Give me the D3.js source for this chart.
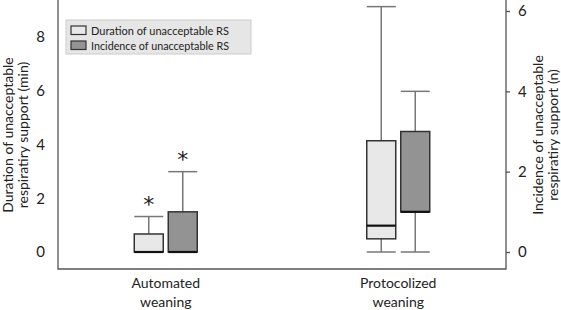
<!DOCTYPE html>
<html>
<head>
<meta charset="utf-8">
<script src="https://cdn.jsdelivr.net/npm/d3@7"></script>
<style>
  body { margin: 0; background: #fff; }
  svg { display: block; font-family: Lato, "Open Sans", sans-serif; }
</style>
</head>
<body>
<div id="chart"></div>
<script>
// Data
const categories = ["Automated weaning", "Protocolized weaning"];
const seriesNames = ["Duration of unacceptable RS", "Incidence of unacceptable RS"];
// box stats: [min, q1, median, q3, max]
const durationStats = [[0, 0, 0, 0.67, 1.32], [0, 0.49, 0.98, 4.14, 9.13]];
const incidenceStats = [[0, 0, 0, 1, 2], [0, 1, 1, 3, 4]];
const significant = [true, false];
const leftTicks = [0, 2, 4, 6, 8];
const rightTicks = [0, 2, 4, 6];

const width = 561, height = 310;
const plotLeft = 58, plotRight = 506, plotTop = 0, plotBottom = 269;

const svg = d3.select("#chart").append("svg")
  .attr("width", width)
  .attr("height", height);

const x = d3.scalePoint().domain(categories).range([plotLeft, plotRight]).padding(0.4635);
const yL = d3.scaleLinear().domain([0, 8]).range([252, 37]);
const yR = d3.scaleLinear().domain([0, 6]).range([252, 11]);

const fills = ["#e8e8e8", "#939393"];
const offsets = [-17, 17];
const boxW = 29;

// frame: left, bottom, right lines
svg.append("path")
  .attr("d", `M${plotLeft},${plotTop}V${plotBottom}H${plotRight}V${plotTop}`)
  .attr("fill", "none")
  .attr("stroke", "#555")
  .attr("stroke-width", 1.3);

// left axis labels (no tick marks)
const axL = svg.append("g").attr("transform", `translate(${plotLeft},0)`)
  .call(d3.axisLeft(yL).tickValues(leftTicks).tickFormat(d3.format("d")).tickSize(0).tickPadding(13));
axL.select(".domain").remove();
axL.selectAll("text").attr("font-size", 15).attr("font-family", "Lato, sans-serif").attr("fill", "#222");

const axR = svg.append("g").attr("transform", `translate(${plotRight},0)`)
  .call(d3.axisRight(yR).tickValues(rightTicks).tickFormat(d3.format("d")).tickSize(4).tickPadding(8));
axR.select(".domain").remove();
axR.selectAll("line").attr("stroke", "#555").attr("stroke-width", 1.3);
axR.selectAll("text").attr("font-size", 15).attr("font-family", "Lato, sans-serif").attr("fill", "#222");

// axis titles
function title(xc, lines) {
  const t = svg.append("text")
    .attr("transform", `translate(${xc},135) rotate(-90)`)
    .attr("text-anchor", "middle")
    .attr("font-size", 14)
    .attr("fill", "#222");
  lines.forEach((l, i) => t.append("tspan").attr("x", 0).attr("dy", i ? 14.5 : 0).text(l));
}
title(13, ["Duration of unacceptable", "respiratiry support (min)"]);
title(543, ["Incidence of unacceptable", "respiratiry support (n)"]);

// category labels
categories.forEach(c => {
  const words = c.split(" ");
  const t = svg.append("text")
    .attr("x", x(c))
    .attr("y", 288)
    .attr("text-anchor", "middle")
    .attr("font-size", 14)
    .attr("fill", "#222");
  words.forEach((w, i) => t.append("tspan").attr("x", x(c)).attr("dy", i ? 19 : 0).text(w));
});

// boxplots
function drawBox(stats, y, si) {
  stats.forEach((s, ci) => {
    const cx = x(categories[ci]) + offsets[si];
    const [mn, q1, md, q3, mx] = s;
    const g = svg.append("g");
    // whiskers
    g.append("line").attr("x1", cx).attr("x2", cx).attr("y1", y(q3)).attr("y2", y(mx))
      .attr("stroke", "#777").attr("stroke-width", 1.5);
    g.append("line").attr("x1", cx).attr("x2", cx).attr("y1", y(q1)).attr("y2", y(mn))
      .attr("stroke", "#777").attr("stroke-width", 1.5);
    [mn, mx].forEach(v => {
      if (v === q1 || v === q3) return;
      g.append("line").attr("x1", cx - boxW / 2).attr("x2", cx + boxW / 2)
        .attr("y1", y(v)).attr("y2", y(v))
        .attr("stroke", "#777").attr("stroke-width", 1.5);
    });
    g.append("rect")
      .attr("x", cx - boxW / 2).attr("width", boxW)
      .attr("y", y(q3)).attr("height", y(q1) - y(q3))
      .attr("fill", fills[si]).attr("stroke", "#333").attr("stroke-width", 1.5);
    g.append("line").attr("x1", cx - boxW / 2).attr("x2", cx + boxW / 2)
      .attr("y1", y(md)).attr("y2", y(md))
      .attr("stroke", "#111").attr("stroke-width", 2.2);
    if (significant[ci]) {
      g.append("text").attr("x", cx).attr("y", y(mx) - 5)
        .attr("text-anchor", "middle").attr("font-size", 22)
        .attr("font-family", "DejaVu Sans, sans-serif")
        .attr("fill", "#222").text("*");
    }
  });
}
drawBox(durationStats, yL, 0);
drawBox(incidenceStats, yR, 1);

// legend
const lg = svg.append("g");
lg.append("rect").attr("x", 66).attr("y", 20).attr("width", 185).attr("height", 34)
  .attr("fill", "#e6e6e6").attr("stroke", "#ccc");
seriesNames.forEach((n, i) => {
  lg.append("rect").attr("x", 71).attr("y", 26 + i * 15).attr("width", 15).attr("height", 8.5)
    .attr("fill", fills[i]).attr("stroke", "#333").attr("stroke-width", 1.2);
  lg.append("text").attr("x", 91).attr("y", 34.5 + i * 15)
    .attr("font-size", 11.5).attr("fill", "#222")
    .attr("textLength", 138).attr("lengthAdjust", "spacingAndGlyphs")
    .text(n);
});
</script>
</body>
</html>
